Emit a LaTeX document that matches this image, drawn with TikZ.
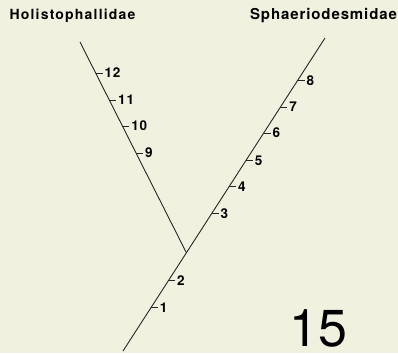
\documentclass[tikz,border=0pt]{standalone}
\usepackage{fontspec}
\setmainfont{TeX Gyre Heros}
\usepackage{xcolor}
\usepackage{tikz}
\usetikzlibrary{calc}

\definecolor{paper}{RGB}{241,241,224}

\begin{document}
\begin{tikzpicture}[
    x=1pt, y=-1pt,
    branch/.style={draw=black!85, line width=0.9pt},
    tick/.style={draw=black!85, line width=0.9pt},
    ticklabel/.style={right, inner sep=1.5pt, font=\fontsize{13.5}{13.5}\selectfont\bfseries\addfontfeature{LetterSpace=6}},
    taxon/.style={inner sep=0pt, anchor=base}
]
    \fill[paper] (0,0) rectangle (398,353);
    \useasboundingbox (0,0) rectangle (398,353);

    % tree
    \coordinate (root) at (123,351);
    \coordinate (fork) at (186,252);
    \coordinate (tipS) at (325,38);
    \coordinate (tipH) at (80,42);

    \draw[branch] (root) -- (tipS);
    \draw[branch] (fork) -- (tipH);

    \node[taxon, font=\fontsize{14}{14}\selectfont\bfseries\addfontfeature{LetterSpace=8.5}] (holi) at (72.5,19.5) {Holistophallidae};
    \node[taxon, font=\fontsize{15}{15}\selectfont\bfseries\addfontfeature{LetterSpace=6}] (sphae) at (323.5,19.5) {Sphaeriodesmidae};

    % characters on the main stem
    \coordinate (c1) at ($(root)!0.138!(tipS)$);
    \coordinate (c2) at ($(root)!0.224!(tipS)$);
    \coordinate (c3) at ($(root)!0.439!(tipS)$);
    \coordinate (c4) at ($(root)!0.526!(tipS)$);
    \coordinate (c5) at ($(root)!0.609!(tipS)$);
    \coordinate (c6) at ($(root)!0.696!(tipS)$);
    \coordinate (c7) at ($(root)!0.779!(tipS)$);
    \coordinate (c8) at ($(root)!0.865!(tipS)$);

    \draw[tick] (c1) -- ++(7,0) node[ticklabel] (l1) {1};
    \draw[tick] (c2) -- ++(7,0) node[ticklabel] (l2) {2};
    \draw[tick] (c3) -- ++(7,0) node[ticklabel] (l3) {3};
    \draw[tick] (c4) -- ++(7,0) node[ticklabel] (l4) {4};
    \draw[tick] (c5) -- ++(7,0) node[ticklabel] (l5) {5};
    \draw[tick] (c6) -- ++(7,0) node[ticklabel] (l6) {6};
    \draw[tick] (c7) -- ++(7,0) node[ticklabel] (l7) {7};
    \draw[tick] (c8) -- ++(7,0) node[ticklabel] (l8) {8};

    % characters on the side branch
    \coordinate (c9) at ($(fork)!0.471!(tipH)$);
    \coordinate (c10) at ($(fork)!0.600!(tipH)$);
    \coordinate (c11) at ($(fork)!0.724!(tipH)$);
    \coordinate (c12) at ($(fork)!0.852!(tipH)$);

    \draw[tick] (c9) -- ++(7,0) node[ticklabel] (l9) {9};
    \draw[tick] (c10) -- ++(7,0) node[ticklabel] (l10) {10};
    \draw[tick] (c11) -- ++(7,0) node[ticklabel] (l11) {11};
    \draw[tick] (c12) -- ++(7,0) node[ticklabel] (l12) {12};

    \node[inner sep=0pt, anchor=base, font=\fontsize{52}{52}\selectfont] (fig) at (318,346) {15};
\end{tikzpicture}
\end{document}
